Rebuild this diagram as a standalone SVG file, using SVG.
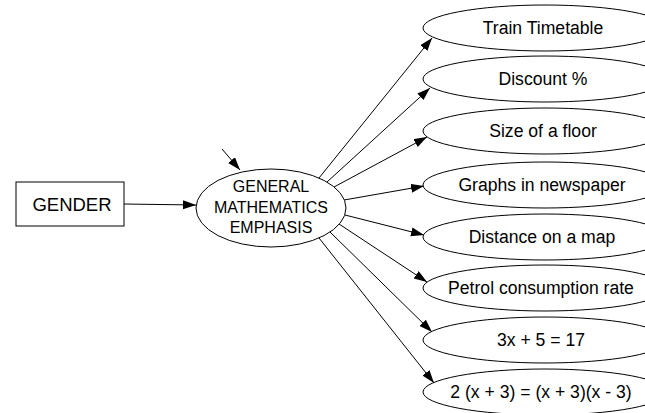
<svg xmlns="http://www.w3.org/2000/svg" width="645" height="413" viewBox="0 0 645 413">
<defs>
<marker id="ah" markerUnits="userSpaceOnUse" markerWidth="14" markerHeight="10" refX="13" refY="4.5" orient="auto">
<path d="M0,0 L13,4.5 L0,9 z" fill="#000"/>
</marker>
<style>
.n{fill:#fff;stroke:#000;stroke-width:1}
.t{font-family:"Liberation Sans",Arial,sans-serif;fill:#000;text-anchor:middle}
.r{font-size:17.6px}
.c{font-size:16px}
.e{stroke:#000;stroke-width:1;fill:none;marker-end:url(#ah)}
</style>
</defs>
<rect width="645" height="413" fill="#fff"/>
<g id="connectors">
<line class="e" x1="124" y1="204" x2="196" y2="205"/>
<line class="e" x1="222" y1="149" x2="240" y2="170"/>
<line class="e" x1="319" y1="178" x2="432" y2="38"/>
<line class="e" x1="327" y1="182" x2="430" y2="88"/>
<line class="e" x1="334" y1="187" x2="427" y2="137"/>
<line class="e" x1="344" y1="200" x2="424" y2="186"/>
<line class="e" x1="345" y1="215" x2="424" y2="235"/>
<line class="e" x1="339" y1="224" x2="427" y2="282"/>
<line class="e" x1="330" y1="232" x2="432" y2="332"/>
<line class="e" x1="319" y1="238" x2="434" y2="383"/>
</g>
<g id="gender">
<rect class="n" x="16" y="182" width="108" height="44"/>
<text class="t" x="72" y="211" style="font-size:18.5px">GENDER</text>
</g>
<g id="gme">
<ellipse class="n" cx="271" cy="208" rx="75" ry="39"/>
<text class="t c" x="271" y="192">GENERAL</text>
<text class="t c" x="271" y="213">MATHEMATICS</text>
<text class="t c" x="271" y="233">EMPHASIS</text>
</g>
<g id="train">
<ellipse class="n" cx="545" cy="28" rx="122" ry="23"/>
<text class="t r" x="543" y="34">Train Timetable</text>
</g>
<g id="discount">
<ellipse class="n" cx="545" cy="79" rx="122" ry="23"/>
<text class="t r" x="543" y="85">Discount %</text>
</g>
<g id="floor">
<ellipse class="n" cx="545" cy="131" rx="122" ry="23"/>
<text class="t r" x="543" y="137">Size of a floor</text>
</g>
<g id="graphs">
<ellipse class="n" cx="545" cy="185" rx="122" ry="23"/>
<text class="t r" x="542" y="191">Graphs in newspaper</text>
</g>
<g id="distance">
<ellipse class="n" cx="545" cy="237" rx="122" ry="23"/>
<text class="t r" x="542" y="243">Distance on a map</text>
</g>
<g id="petrol">
<ellipse class="n" cx="545" cy="288" rx="122" ry="23"/>
<text class="t r" x="541" y="294">Petrol consumption rate</text>
</g>
<g id="eq1">
<ellipse class="n" cx="545" cy="340" rx="122" ry="23"/>
<text class="t r" x="541" y="346">3x + 5 = 17</text>
</g>
<g id="eq2">
<ellipse class="n" cx="545" cy="392" rx="122" ry="23"/>
<text class="t r" x="541" y="398">2 (x + 3) = (x + 3)(x - 3)</text>
</g>
</svg>
